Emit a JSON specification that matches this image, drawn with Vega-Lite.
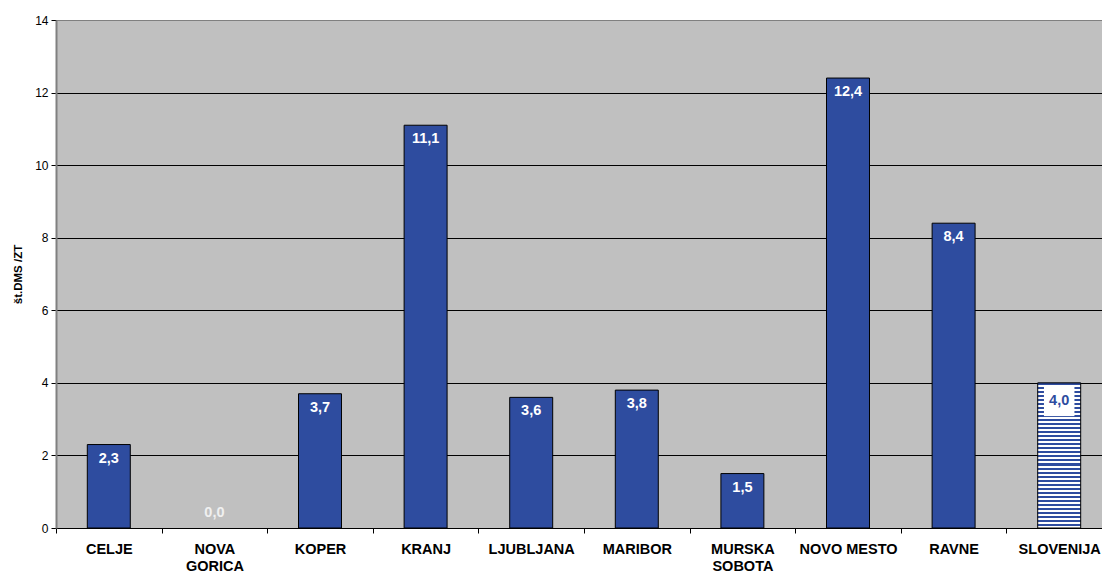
{
  "$schema": "https://vega.github.io/schema/vega-lite/v6.json",
  "autosize": {"type": "none"},
  "width": 1046,
  "height": 508,
  "padding": {"left": 56, "top": 20, "right": 0, "bottom": 48},
  "background": "white",
  "config": {
    "font": "Liberation Sans",
    "view": {"fill": "#C0C0C0", "stroke": null},
    "locale": {"number": {"decimal": ",", "thousands": ".", "grouping": [3], "currency": ["", " €"]}}
  },
  "data": {
    "values": [
      {"region": "CELJE", "value": 2.3},
      {"region": "NOVA GORICA", "value": 0.0},
      {"region": "KOPER", "value": 3.7},
      {"region": "KRANJ", "value": 11.1},
      {"region": "LJUBLJANA", "value": 3.6},
      {"region": "MARIBOR", "value": 3.8},
      {"region": "MURSKA SOBOTA", "value": 1.5},
      {"region": "NOVO MESTO", "value": 12.4},
      {"region": "RAVNE", "value": 8.4},
      {"region": "SLOVENIJA", "value": 4.0}
    ]
  },
  "encoding": {
    "x": {
      "field": "region",
      "type": "nominal",
      "scale": {
        "domain": ["CELJE", "NOVA GORICA", "KOPER", "KRANJ", "LJUBLJANA", "MARIBOR", "MURSKA SOBOTA", "NOVO MESTO", "RAVNE", "SLOVENIJA"],
        "range": [0, 1056],
        "paddingInner": 0,
        "paddingOuter": 0
      },
      "axis": {
        "title": null,
        "labelAngle": 0,
        "labelFont": "Liberation Sans",
        "labelFontSize": 14.5,
        "labelFontWeight": "bold",
        "labelColor": "black",
        "labelPadding": 9,
        "labelLineHeight": 17,
        "labelExpr": "datum.label == 'NOVA GORICA' ? ['NOVA', 'GORICA'] : datum.label == 'MURSKA SOBOTA' ? ['MURSKA', 'SOBOTA'] : datum.label",
        "tickBand": "extent",
        "tickSize": 5,
        "tickColor": "black",
        "domainColor": "black",
        "domainWidth": 1,
        "grid": false
      }
    },
    "y": {
      "field": "value",
      "type": "quantitative",
      "scale": {"domain": [0, 14], "nice": false},
      "axis": {
        "title": "št.DMS /ZT",
        "titleFont": "Liberation Sans",
        "titleFontSize": 11.5,
        "titleFontWeight": "bold",
        "titleColor": "black",
        "titlePadding": 11,
        "values": [0, 2, 4, 6, 8, 10, 12, 14],
        "labelFontSize": 12,
        "labelColor": "black",
        "labelPadding": 3,
        "tickSize": 5,
        "tickColor": "black",
        "domainColor": "#808080",
        "domainWidth": 2,
        "grid": true,
        "gridColor": {"condition": {"test": "datum.value === 14", "value": "#808080"}, "value": "black"},
        "gridWidth": 1,
        "gridOpacity": 1
      }
    }
  },
  "layer": [
    {
      "transform": [{"filter": "datum.region !== 'SLOVENIJA' && datum.value > 0"}],
      "mark": {"type": "bar", "fill": "#2E4C9F", "stroke": "black", "strokeWidth": 1, "width": {"band": 0.407}}
    },
    {
      "transform": [{"filter": "datum.region === 'SLOVENIJA'"}],
      "mark": {
        "type": "bar",
        "stroke": "black",
        "strokeWidth": 1,
        "width": {"band": 0.407},
        "fill": {
          "gradient": "linear", "x1": 0, "y1": 0, "x2": 0, "y2": 1,
          "stops": [
            {"offset": 0, "color": "#2E4C9F"},
            {"offset": 0.0139, "color": "#2E4C9F"}, {"offset": 0.0139, "color": "#FFFFFF"},
            {"offset": 0.0278, "color": "#FFFFFF"}, {"offset": 0.0278, "color": "#2E4C9F"},
            {"offset": 0.0417, "color": "#2E4C9F"}, {"offset": 0.0417, "color": "#FFFFFF"},
            {"offset": 0.0556, "color": "#FFFFFF"}, {"offset": 0.0556, "color": "#2E4C9F"},
            {"offset": 0.0694, "color": "#2E4C9F"}, {"offset": 0.0694, "color": "#FFFFFF"},
            {"offset": 0.0833, "color": "#FFFFFF"}, {"offset": 0.0833, "color": "#2E4C9F"},
            {"offset": 0.0972, "color": "#2E4C9F"}, {"offset": 0.0972, "color": "#FFFFFF"},
            {"offset": 0.1111, "color": "#FFFFFF"}, {"offset": 0.1111, "color": "#2E4C9F"},
            {"offset": 0.125, "color": "#2E4C9F"}, {"offset": 0.125, "color": "#FFFFFF"},
            {"offset": 0.1389, "color": "#FFFFFF"}, {"offset": 0.1389, "color": "#2E4C9F"},
            {"offset": 0.1528, "color": "#2E4C9F"}, {"offset": 0.1528, "color": "#FFFFFF"},
            {"offset": 0.1667, "color": "#FFFFFF"}, {"offset": 0.1667, "color": "#2E4C9F"},
            {"offset": 0.1806, "color": "#2E4C9F"}, {"offset": 0.1806, "color": "#FFFFFF"},
            {"offset": 0.1944, "color": "#FFFFFF"}, {"offset": 0.1944, "color": "#2E4C9F"},
            {"offset": 0.2083, "color": "#2E4C9F"}, {"offset": 0.2083, "color": "#FFFFFF"},
            {"offset": 0.2222, "color": "#FFFFFF"}, {"offset": 0.2222, "color": "#2E4C9F"},
            {"offset": 0.2361, "color": "#2E4C9F"}, {"offset": 0.2361, "color": "#FFFFFF"},
            {"offset": 0.25, "color": "#FFFFFF"}, {"offset": 0.25, "color": "#2E4C9F"},
            {"offset": 0.2639, "color": "#2E4C9F"}, {"offset": 0.2639, "color": "#FFFFFF"},
            {"offset": 0.2778, "color": "#FFFFFF"}, {"offset": 0.2778, "color": "#2E4C9F"},
            {"offset": 0.2917, "color": "#2E4C9F"}, {"offset": 0.2917, "color": "#FFFFFF"},
            {"offset": 0.3056, "color": "#FFFFFF"}, {"offset": 0.3056, "color": "#2E4C9F"},
            {"offset": 0.3194, "color": "#2E4C9F"}, {"offset": 0.3194, "color": "#FFFFFF"},
            {"offset": 0.3333, "color": "#FFFFFF"}, {"offset": 0.3333, "color": "#2E4C9F"},
            {"offset": 0.3472, "color": "#2E4C9F"}, {"offset": 0.3472, "color": "#FFFFFF"},
            {"offset": 0.3611, "color": "#FFFFFF"}, {"offset": 0.3611, "color": "#2E4C9F"},
            {"offset": 0.375, "color": "#2E4C9F"}, {"offset": 0.375, "color": "#FFFFFF"},
            {"offset": 0.3889, "color": "#FFFFFF"}, {"offset": 0.3889, "color": "#2E4C9F"},
            {"offset": 0.4028, "color": "#2E4C9F"}, {"offset": 0.4028, "color": "#FFFFFF"},
            {"offset": 0.4167, "color": "#FFFFFF"}, {"offset": 0.4167, "color": "#2E4C9F"},
            {"offset": 0.4306, "color": "#2E4C9F"}, {"offset": 0.4306, "color": "#FFFFFF"},
            {"offset": 0.4444, "color": "#FFFFFF"}, {"offset": 0.4444, "color": "#2E4C9F"},
            {"offset": 0.4583, "color": "#2E4C9F"}, {"offset": 0.4583, "color": "#FFFFFF"},
            {"offset": 0.4722, "color": "#FFFFFF"}, {"offset": 0.4722, "color": "#2E4C9F"},
            {"offset": 0.4861, "color": "#2E4C9F"}, {"offset": 0.4861, "color": "#FFFFFF"},
            {"offset": 0.5, "color": "#FFFFFF"}, {"offset": 0.5, "color": "#2E4C9F"},
            {"offset": 0.5139, "color": "#2E4C9F"}, {"offset": 0.5139, "color": "#FFFFFF"},
            {"offset": 0.5278, "color": "#FFFFFF"}, {"offset": 0.5278, "color": "#2E4C9F"},
            {"offset": 0.5417, "color": "#2E4C9F"}, {"offset": 0.5417, "color": "#FFFFFF"},
            {"offset": 0.5556, "color": "#FFFFFF"}, {"offset": 0.5556, "color": "#2E4C9F"},
            {"offset": 0.5694, "color": "#2E4C9F"}, {"offset": 0.5694, "color": "#FFFFFF"},
            {"offset": 0.5833, "color": "#FFFFFF"}, {"offset": 0.5833, "color": "#2E4C9F"},
            {"offset": 0.5972, "color": "#2E4C9F"}, {"offset": 0.5972, "color": "#FFFFFF"},
            {"offset": 0.6111, "color": "#FFFFFF"}, {"offset": 0.6111, "color": "#2E4C9F"},
            {"offset": 0.625, "color": "#2E4C9F"}, {"offset": 0.625, "color": "#FFFFFF"},
            {"offset": 0.6389, "color": "#FFFFFF"}, {"offset": 0.6389, "color": "#2E4C9F"},
            {"offset": 0.6528, "color": "#2E4C9F"}, {"offset": 0.6528, "color": "#FFFFFF"},
            {"offset": 0.6667, "color": "#FFFFFF"}, {"offset": 0.6667, "color": "#2E4C9F"},
            {"offset": 0.6806, "color": "#2E4C9F"}, {"offset": 0.6806, "color": "#FFFFFF"},
            {"offset": 0.6944, "color": "#FFFFFF"}, {"offset": 0.6944, "color": "#2E4C9F"},
            {"offset": 0.7083, "color": "#2E4C9F"}, {"offset": 0.7083, "color": "#FFFFFF"},
            {"offset": 0.7222, "color": "#FFFFFF"}, {"offset": 0.7222, "color": "#2E4C9F"},
            {"offset": 0.7361, "color": "#2E4C9F"}, {"offset": 0.7361, "color": "#FFFFFF"},
            {"offset": 0.75, "color": "#FFFFFF"}, {"offset": 0.75, "color": "#2E4C9F"},
            {"offset": 0.7639, "color": "#2E4C9F"}, {"offset": 0.7639, "color": "#FFFFFF"},
            {"offset": 0.7778, "color": "#FFFFFF"}, {"offset": 0.7778, "color": "#2E4C9F"},
            {"offset": 0.7917, "color": "#2E4C9F"}, {"offset": 0.7917, "color": "#FFFFFF"},
            {"offset": 0.8056, "color": "#FFFFFF"}, {"offset": 0.8056, "color": "#2E4C9F"},
            {"offset": 0.8194, "color": "#2E4C9F"}, {"offset": 0.8194, "color": "#FFFFFF"},
            {"offset": 0.8333, "color": "#FFFFFF"}, {"offset": 0.8333, "color": "#2E4C9F"},
            {"offset": 0.8472, "color": "#2E4C9F"}, {"offset": 0.8472, "color": "#FFFFFF"},
            {"offset": 0.8611, "color": "#FFFFFF"}, {"offset": 0.8611, "color": "#2E4C9F"},
            {"offset": 0.875, "color": "#2E4C9F"}, {"offset": 0.875, "color": "#FFFFFF"},
            {"offset": 0.8889, "color": "#FFFFFF"}, {"offset": 0.8889, "color": "#2E4C9F"},
            {"offset": 0.9028, "color": "#2E4C9F"}, {"offset": 0.9028, "color": "#FFFFFF"},
            {"offset": 0.9167, "color": "#FFFFFF"}, {"offset": 0.9167, "color": "#2E4C9F"},
            {"offset": 0.9306, "color": "#2E4C9F"}, {"offset": 0.9306, "color": "#FFFFFF"},
            {"offset": 0.9444, "color": "#FFFFFF"}, {"offset": 0.9444, "color": "#2E4C9F"},
            {"offset": 0.9583, "color": "#2E4C9F"}, {"offset": 0.9583, "color": "#FFFFFF"},
            {"offset": 0.9722, "color": "#FFFFFF"}, {"offset": 0.9722, "color": "#2E4C9F"},
            {"offset": 0.9861, "color": "#2E4C9F"}, {"offset": 0.9861, "color": "#FFFFFF"},
            {"offset": 1, "color": "#FFFFFF"}
          ]
        }
      }
    },
    {
      "transform": [{"filter": "datum.region === 'SLOVENIJA'"}],
      "mark": {"type": "square", "size": 930, "color": "white", "filled": true, "opacity": 1, "yOffset": 18}
    },
    {
      "transform": [{"filter": "datum.region !== 'SLOVENIJA' && datum.value > 0"}],
      "mark": {"type": "text", "color": "white", "fontWeight": "bold", "fontSize": 14.5, "baseline": "middle", "dy": 14},
      "encoding": {"text": {"field": "value", "type": "quantitative", "format": ".1f"}}
    },
    {
      "transform": [{"filter": "datum.value == 0"}],
      "mark": {"type": "text", "color": "#F0F0F0", "fontWeight": "bold", "fontSize": 14.5, "baseline": "middle", "dy": -15},
      "encoding": {"text": {"field": "value", "type": "quantitative", "format": ".1f"}}
    },
    {
      "transform": [{"filter": "datum.region === 'SLOVENIJA'"}],
      "mark": {"type": "text", "color": "#2E4C9F", "fontWeight": "bold", "fontSize": 14.5, "baseline": "middle", "dy": 18},
      "encoding": {"text": {"field": "value", "type": "quantitative", "format": ".1f"}}
    }
  ]
}
